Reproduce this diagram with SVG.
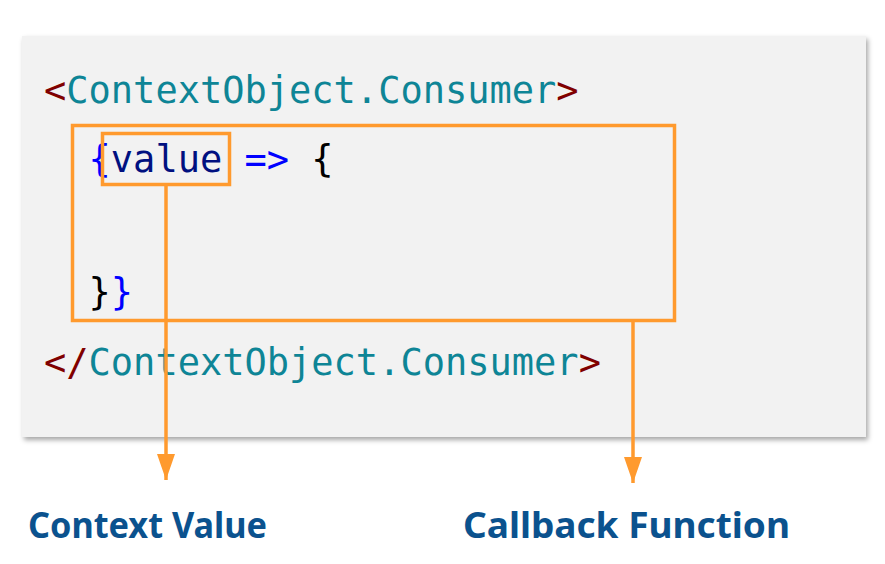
<svg xmlns="http://www.w3.org/2000/svg" width="885" height="564" viewBox="0 0 885 564">
<defs>
<filter id="sh" x="-5%" y="-5%" width="110%" height="115%">
<feDropShadow dx="2" dy="3" stdDeviation="2.5" flood-color="#000" flood-opacity="0.35"/>
</filter>
<marker id="arr" markerWidth="26" markerHeight="18" refX="26" refY="9" orient="auto" markerUnits="userSpaceOnUse" viewBox="0 0 26 18">
<path d="M0,0 L26,9 L0,18 Z" fill="#ff9a2e"/>
</marker>
<style>
.code{font-family:"DejaVu Sans Mono","Liberation Mono",monospace;font-size:37px;}
.tag{fill:#800000}.cmp{fill:#0e8596}.blu{fill:#0000ff}.var{fill:#001080}.blk{fill:#000}
.box{fill:none;stroke:#ff9a2e;stroke-width:3.5}
.conn{fill:none;stroke:#ff9a2e;stroke-width:3.5}
.lbl{font-family:"Noto Sans","Open Sans",sans-serif;font-weight:bold;font-size:36px;fill:#0b528e}
</style>
</defs>
<g id="panel">
<rect x="22" y="36" width="844" height="401" fill="#f2f2f2" filter="url(#sh)"/>
</g>
<g id="code">
<text class="code" x="44" y="103" xml:space="preserve"><tspan class="tag">&lt;</tspan><tspan class="cmp">ContextObject.Consumer</tspan><tspan class="tag">&gt;</tspan></text>
<text class="code" x="44" y="172" xml:space="preserve">  <tspan class="blu">{</tspan><tspan class="var">value</tspan> <tspan class="blu">=&gt;</tspan> <tspan class="blk">{</tspan></text>
<text class="code" x="44" y="305" xml:space="preserve">  <tspan class="blk">}</tspan><tspan class="blu">}</tspan></text>
<text class="code" x="44" y="375" xml:space="preserve"><tspan class="tag">&lt;/</tspan><tspan class="cmp">ContextObject.Consumer</tspan><tspan class="tag">&gt;</tspan></text>
</g>
<g id="callback-box">
<rect class="box" x="72.5" y="125.5" width="602" height="195"/>
</g>
<g id="value-box">
<rect class="box" x="102.5" y="133.5" width="127" height="51"/>
</g>
<g id="connectors">
<line class="conn" x1="166" y1="185" x2="166" y2="480" marker-end="url(#arr)"/>
<line class="conn" x1="633" y1="321" x2="633" y2="483" marker-end="url(#arr)"/>
</g>
<g id="label-context-value">
<text class="lbl" x="28" y="538" textLength="239" lengthAdjust="spacingAndGlyphs">Context Value</text>
</g>
<g id="label-callback-function">
<text class="lbl" x="463" y="538" textLength="327" lengthAdjust="spacingAndGlyphs">Callback Function</text>
</g>
</svg>
